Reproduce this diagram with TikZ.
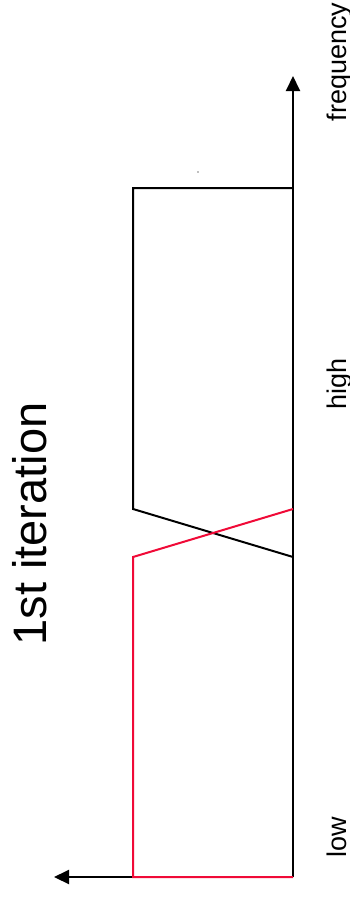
\documentclass[tikz,border=0pt]{standalone}
\usepackage{fontspec}
\setmainfont{Liberation Sans}
\usetikzlibrary{arrows.meta}
\definecolor{curvered}{RGB}{240,10,55}
\tikzset{
  axisline/.style={line width=2pt, -{Triangle[length=15pt,width=14pt]}},
  blackcurve/.style={line width=2pt, black, line join=miter},
  redcurve/.style={line width=2pt, curvered, line join=miter},
  axislabel/.style={rotate=90, inner sep=0pt, anchor=base, font=\fontsize{27}{30}\selectfont},
  titlelabel/.style={rotate=90, inner sep=0pt, anchor=center, font=\fontsize{47}{54}\selectfont}
}
\begin{document}
\begin{tikzpicture}[x=1pt,y=-1pt]
\useasboundingbox (0,0) rectangle (350,899);
% axes
\coordinate (O) at (293,877);
\coordinate (Ytip) at (293,76);
\coordinate (Xtip) at (54,877);
% black curve
\coordinate (B1) at (293,188);
\coordinate (B2) at (133,188);
\coordinate (B3) at (133,509);
\coordinate (B4) at (293,557);
% red curve
\coordinate (R1) at (293,509);
\coordinate (R2) at (133,557);
\coordinate (R3) at (133,877);
\coordinate (R4) at (293,877);
\draw[blackcurve] (B1) -- (B2) -- (B3) -- (B4);
\draw[axisline] (O) -- (Ytip);
\draw[axisline] (O) -- (Xtip);
\draw[redcurve] (R1) -- (R2) -- (R3) -- (R4);
\fill[gray] (198,172) circle (0.9);
% labels
\node[axislabel] (freq) at (346,62) {frequency};
\node[axislabel] (high) at (346,384) {high};
\node[axislabel] (low) at (346,837) {low};
\node[titlelabel] (title) at (30,524) {1st iteration};
\end{tikzpicture}
\end{document}
